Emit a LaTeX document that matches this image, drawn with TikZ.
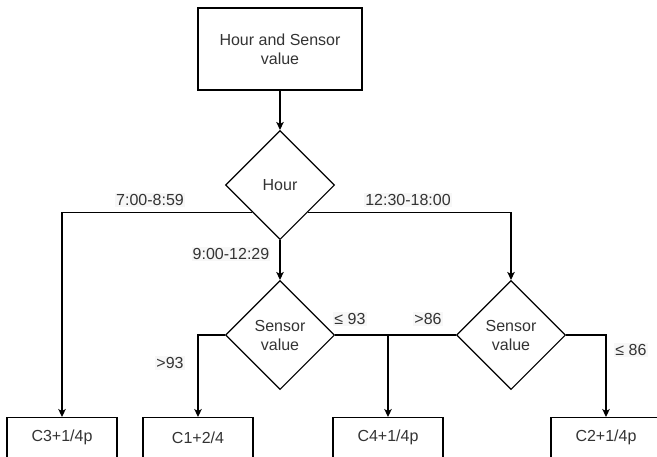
\documentclass[tikz,border=0pt]{standalone}
\usepackage{fontspec}
\setmainfont{Liberation Sans}
\usepackage{tikz}
\usetikzlibrary{arrows.meta}
\usetikzlibrary{shapes.geometric}
\usetikzlibrary{calc}

\tikzset{
  box/.style={draw, line width=1.1pt, minimum width=110pt, minimum height=40pt,
    align=center, text=black!80, font=\fontsize{16}{19}\selectfont},
  decision/.style={draw, diamond, line width=1.1pt, minimum width=109pt,
    minimum height=109pt, inner sep=0pt, align=center, text=black!80,
    font=\fontsize{16}{19}\selectfont},
  flow/.style={line width=1.1pt, -{Stealth[length=8pt,width=7.5pt,inset=2pt]}},
  lbl/.style={fill=black!3, inner sep=1pt, text=black!80,
    font=\fontsize{16}{19}\selectfont}
}

\begin{document}
\begin{tikzpicture}[x=1pt,y=-1pt]
    \useasboundingbox (0,0) rectangle (657,456);
    \node[box, minimum width=164pt, minimum height=82pt] (start) at (280,49) {Hour and Sensor\\value};
    \node[decision] (hour) at (280,185) {Hour};
    \node[decision] (sensA) at (280,335) {Sensor\\value};
    \node[decision] (sensB) at (511,335) {Sensor\\value};
    \node[box, anchor=north] (cthree) at (62,417) {C3+1/4p};
    \node[box, anchor=north] (cone) at (198,417) {C1+2/4};
    \node[box, anchor=north] (cfour) at (388,417) {C4+1/4p};
    \node[box, anchor=north] (ctwo) at (606,417) {C2+1/4p};

    \draw[flow] (start) -- (hour);
    \draw[flow] ($(hour.south)!0.5!(hour.west)$) -| (cthree.north);
    \draw[flow] ($(hour.south)!0.5!(hour.east)$) -| (sensB.north);
    \draw[flow] (hour.south) -- (sensA.north);
    \draw[flow] (sensA.west) -| (cone.north);
    \draw[flow] (sensA.east) -| (cfour.north);
    \draw[line width=1.1pt] (sensB.west) -- (sensB.west -| cfour.north);
    \draw[flow] (sensB.east) -| (ctwo.north);

    \node[lbl] (early) at (150,200) {7:00-8:59};
    \node[lbl] (late) at (408,200) {12:30-18:00};
    \node[lbl] (mid) at (231,254) {9:00-12:29};
    \node[lbl] (highA) at (170,363) {>93};
    \node[lbl] (lowA) at (350,319) {≤ 93};
    \node[lbl] (highB) at (428,319) {>86};
    \node[lbl] (lowB) at (631,350) {≤ 86};
\end{tikzpicture}
\end{document}
